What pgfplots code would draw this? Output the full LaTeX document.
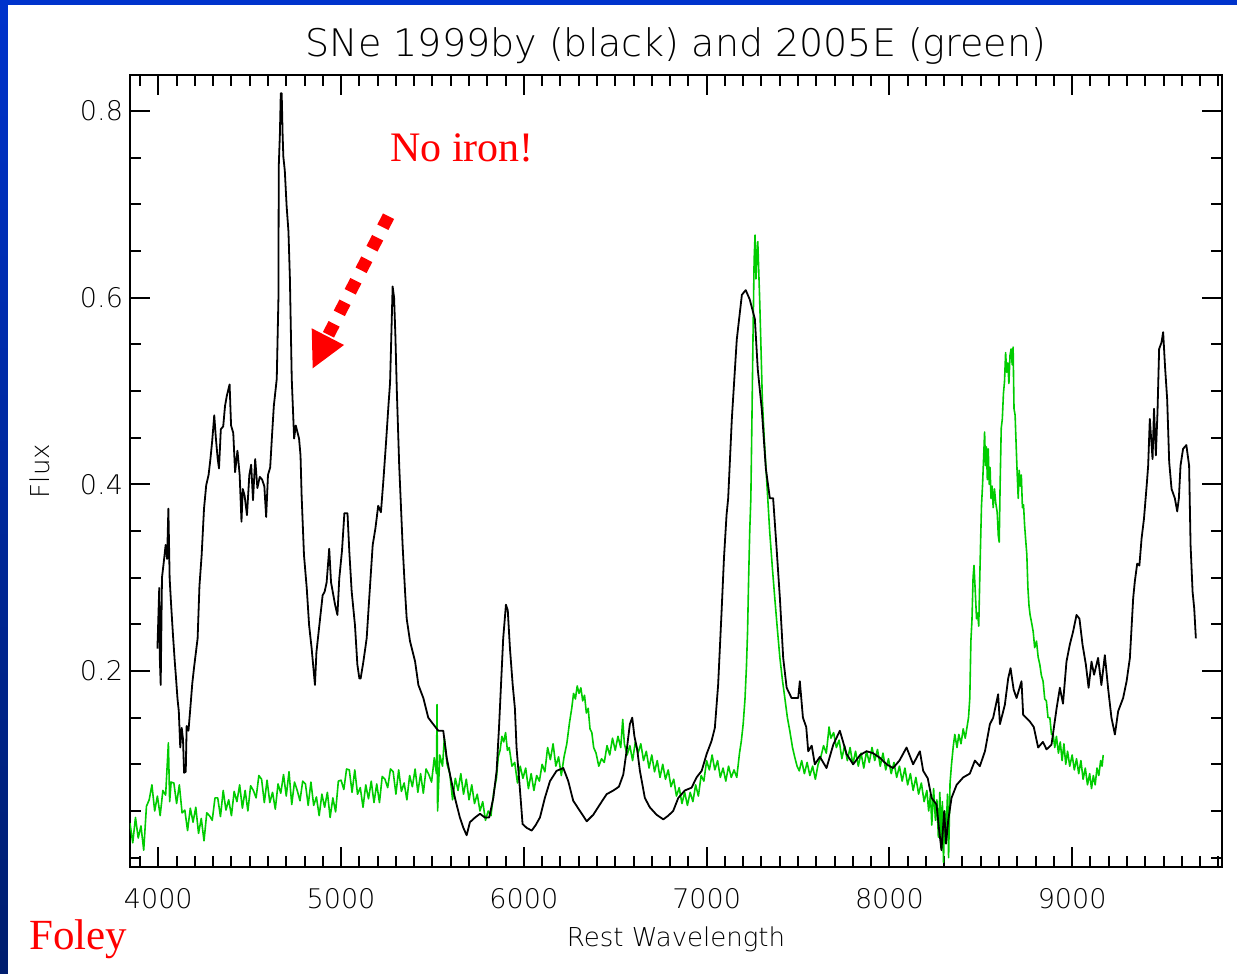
\documentclass[border=0pt]{standalone}
\usepackage{pgfplots}
\pgfplotsset{compat=1.18}
\usepackage{pgfplotstable}
\usepackage{fontspec}
\setmainfont{DejaVu Sans ExtraLight}
\newfontfamily\timesf{Liberation Serif}
\definecolor{sgreen}{RGB}{0,204,0}
\definecolor{bordtop}{RGB}{0,51,204}
\definecolor{bordbot}{RGB}{0,30,110}

\pgfplotstableread{
x y
3995 0.224
3998 0.243
4005 0.289
4008 0.215
4013 0.185
4020 0.300
4030 0.317
4040 0.335
4048 0.320
4055 0.374
4062 0.299
4070 0.271
4080 0.239
4090 0.210
4097 0.192
4105 0.170
4112 0.157
4120 0.118
4128 0.139
4135 0.127
4141 0.091
4150 0.092
4155 0.141
4165 0.136
4175 0.160
4186 0.187
4195 0.203
4215 0.235
4225 0.291
4237 0.324
4250 0.374
4262 0.399
4275 0.410
4285 0.427
4295 0.447
4306 0.474
4315 0.449
4325 0.427
4332 0.417
4342 0.459
4355 0.462
4365 0.484
4375 0.495
4390 0.507
4398 0.463
4410 0.455
4420 0.413
4433 0.436
4445 0.410
4455 0.360
4462 0.395
4472 0.388
4485 0.367
4498 0.410
4508 0.421
4518 0.383
4530 0.427
4542 0.396
4555 0.408
4568 0.405
4580 0.398
4590 0.365
4600 0.410
4612 0.418
4622 0.452
4632 0.484
4648 0.513
4657 0.598
4659 0.741
4665 0.774
4670 0.819
4675 0.819
4680 0.775
4684 0.751
4692 0.736
4702 0.698
4712 0.671
4720 0.620
4730 0.513
4743 0.449
4752 0.463
4770 0.449
4778 0.431
4784 0.388
4797 0.324
4812 0.289
4825 0.249
4839 0.224
4850 0.200
4857 0.185
4865 0.220
4885 0.256
4899 0.281
4910 0.285
4921 0.295
4935 0.331
4945 0.295
4967 0.271
4980 0.260
4990 0.299
5005 0.329
5018 0.369
5035 0.369
5045 0.328
5058 0.285
5076 0.249
5089 0.207
5100 0.192
5107 0.192
5122 0.210
5140 0.235
5155 0.281
5173 0.335
5188 0.353
5203 0.377
5218 0.370
5231 0.403
5246 0.445
5259 0.484
5268 0.509
5275 0.560
5282 0.612
5290 0.600
5297 0.560
5305 0.500
5318 0.420
5337 0.333
5350 0.285
5359 0.256
5377 0.232
5405 0.210
5423 0.185
5450 0.171
5477 0.150
5504 0.143
5532 0.136
5559 0.136
5578 0.107
5596 0.089
5623 0.064
5650 0.043
5669 0.032
5687 0.024
5705 0.038
5733 0.043
5760 0.047
5787 0.043
5810 0.043
5833 0.064
5851 0.093
5864 0.139
5875 0.185
5887 0.235
5902 0.271
5912 0.265
5924 0.224
5939 0.185
5951 0.160
5960 0.118
5979 0.072
5993 0.036
6015 0.032
6043 0.029
6065 0.035
6088 0.043
6115 0.064
6143 0.082
6179 0.093
6216 0.096
6243 0.082
6270 0.061
6307 0.050
6344 0.039
6380 0.046
6416 0.057
6453 0.068
6490 0.072
6520 0.076
6544 0.089
6562 0.114
6580 0.143
6593 0.150
6605 0.130
6620 0.116
6635 0.093
6662 0.064
6689 0.054
6726 0.046
6763 0.041
6790 0.045
6817 0.050
6845 0.064
6881 0.072
6918 0.075
6945 0.086
6973 0.093
7000 0.111
7027 0.125
7045 0.139
7063 0.185
7082 0.264
7095 0.321
7109 0.367
7118 0.385
7138 0.470
7165 0.555
7193 0.603
7214 0.608
7236 0.598
7264 0.577
7280 0.523
7302 0.480
7324 0.417
7346 0.385
7364 0.385
7383 0.331
7401 0.278
7419 0.214
7438 0.182
7465 0.171
7501 0.171
7510 0.189
7527 0.150
7545 0.140
7556 0.114
7575 0.120
7592 0.100
7620 0.108
7656 0.096
7693 0.121
7729 0.136
7766 0.111
7802 0.100
7840 0.110
7875 0.114
7910 0.112
7948 0.107
7985 0.100
8020 0.096
8055 0.104
8094 0.118
8130 0.100
8167 0.114
8185 0.093
8210 0.085
8231 0.064
8258 0.057
8272 0.030
8285 0.008
8300 0.050
8310 0.015
8322 0.040
8340 0.064
8368 0.078
8404 0.086
8440 0.090
8468 0.104
8495 0.098
8523 0.114
8550 0.143
8568 0.150
8595 0.175
8605 0.143
8632 0.164
8650 0.192
8663 0.203
8680 0.180
8696 0.171
8723 0.189
8732 0.153
8768 0.146
8790 0.140
8814 0.118
8840 0.124
8860 0.116
8887 0.121
8915 0.160
8933 0.182
8950 0.165
8969 0.210
8987 0.228
9005 0.242
9024 0.260
9040 0.256
9057 0.228
9075 0.207
9090 0.182
9106 0.210
9120 0.196
9142 0.214
9160 0.185
9179 0.217
9197 0.181
9215 0.150
9234 0.132
9252 0.157
9279 0.171
9298 0.189
9316 0.214
9334 0.278
9343 0.296
9356 0.315
9368 0.313
9380 0.342
9393 0.363
9408 0.399
9416 0.420
9425 0.470
9440 0.427
9448 0.481
9458 0.431
9467 0.477
9476 0.545
9489 0.552
9498 0.563
9508 0.527
9520 0.491
9531 0.424
9544 0.395
9562 0.385
9575 0.371
9584 0.385
9593 0.420
9607 0.438
9625 0.442
9640 0.420
9648 0.335
9659 0.285
9668 0.267
9677 0.235
}\blackspec

\pgfplotstableread{
x y
3845 0.037
3860 0.016
3875 0.043
3890 0.021
3905 0.034
3920 0.008
3935 0.055
3950 0.062
3965 0.078
3980 0.050
3995 0.066
4010 0.045
4025 0.072
4040 0.067
4055 0.123
4062 0.060
4070 0.081
4085 0.080
4100 0.058
4115 0.078
4130 0.048
4145 0.051
4160 0.029
4175 0.053
4190 0.038
4205 0.054
4220 0.026
4235 0.042
4250 0.018
4265 0.048
4280 0.045
4295 0.040
4310 0.064
4325 0.064
4340 0.044
4355 0.072
4370 0.051
4385 0.062
4400 0.045
4415 0.071
4430 0.060
4445 0.078
4460 0.053
4475 0.072
4490 0.050
4505 0.077
4520 0.072
4535 0.064
4550 0.088
4565 0.084
4580 0.059
4595 0.083
4610 0.059
4625 0.070
4640 0.052
4655 0.079
4670 0.069
4685 0.089
4700 0.066
4715 0.092
4730 0.057
4745 0.081
4760 0.072
4775 0.061
4790 0.082
4805 0.079
4820 0.056
4835 0.081
4850 0.056
4865 0.065
4880 0.045
4895 0.068
4910 0.054
4925 0.070
4940 0.043
4955 0.064
4970 0.049
4985 0.082
5000 0.083
5015 0.073
5030 0.095
5045 0.094
5060 0.070
5075 0.094
5090 0.068
5105 0.075
5120 0.054
5135 0.078
5150 0.063
5165 0.082
5180 0.059
5195 0.079
5210 0.059
5225 0.087
5240 0.084
5255 0.075
5270 0.095
5285 0.092
5300 0.068
5315 0.094
5330 0.071
5345 0.080
5360 0.062
5375 0.088
5390 0.076
5405 0.095
5420 0.070
5435 0.090
5450 0.069
5465 0.095
5480 0.089
5495 0.081
5510 0.107
5522 0.090
5525 0.164
5528 0.050
5540 0.110
5555 0.098
5565 0.128
5580 0.100
5595 0.090
5610 0.062
5625 0.085
5640 0.072
5655 0.090
5670 0.068
5685 0.084
5700 0.062
5715 0.078
5730 0.058
5745 0.068
5760 0.050
5775 0.060
5790 0.040
5805 0.050
5820 0.045
5835 0.070
5850 0.085
5860 0.108
5870 0.115
5880 0.130
5890 0.124
5900 0.134
5910 0.115
5920 0.118
5935 0.098
5950 0.102
5965 0.080
5980 0.098
5995 0.085
6010 0.096
6025 0.074
6040 0.090
6055 0.072
6070 0.088
6085 0.082
6100 0.100
6115 0.092
6130 0.118
6145 0.105
6160 0.122
6175 0.098
6190 0.108
6205 0.088
6220 0.108
6235 0.122
6250 0.145
6262 0.160
6272 0.176
6282 0.170
6292 0.184
6302 0.176
6312 0.182
6322 0.168
6332 0.174
6342 0.155
6352 0.160
6362 0.138
6372 0.134
6382 0.118
6395 0.112
6410 0.098
6425 0.106
6440 0.102
6455 0.120
6470 0.110
6485 0.128
6500 0.115
6515 0.130
6530 0.118
6541 0.148
6550 0.122
6565 0.110
6580 0.120
6595 0.104
6610 0.124
6625 0.112
6640 0.122
6655 0.104
6670 0.114
6685 0.096
6700 0.110
6715 0.092
6730 0.104
6745 0.086
6760 0.100
6775 0.084
6790 0.094
6805 0.076
6820 0.084
6835 0.066
6850 0.075
6865 0.058
6880 0.070
6895 0.056
6910 0.070
6925 0.060
6940 0.078
6955 0.066
6970 0.088
6985 0.082
7000 0.104
7015 0.094
7030 0.110
7045 0.094
7060 0.104
7075 0.086
7090 0.096
7105 0.082
7120 0.098
7135 0.086
7150 0.094
7165 0.086
7180 0.112
7190 0.125
7200 0.143
7210 0.170
7218 0.205
7224 0.242
7230 0.300
7236 0.350
7242 0.385
7248 0.470
7254 0.560
7260 0.640
7265 0.667
7270 0.620
7275 0.645
7280 0.660
7285 0.630
7290 0.600
7297 0.550
7305 0.490
7315 0.450
7330 0.400
7345 0.350
7360 0.310
7373 0.278
7387 0.245
7401 0.214
7415 0.190
7428 0.171
7442 0.150
7455 0.136
7470 0.118
7483 0.107
7495 0.098
7507 0.093
7520 0.104
7535 0.090
7550 0.102
7565 0.088
7580 0.098
7595 0.084
7610 0.100
7625 0.108
7640 0.120
7655 0.112
7670 0.140
7680 0.128
7695 0.134
7710 0.118
7725 0.126
7740 0.106
7755 0.120
7770 0.104
7785 0.118
7800 0.100
7815 0.114
7830 0.098
7845 0.112
7860 0.096
7875 0.114
7890 0.102
7905 0.118
7920 0.104
7935 0.116
7950 0.098
7965 0.112
7980 0.094
7995 0.106
8010 0.090
8025 0.102
8040 0.086
8055 0.098
8070 0.082
8085 0.096
8100 0.078
8115 0.090
8130 0.072
8145 0.086
8160 0.068
8175 0.080
8190 0.060
8205 0.072
8215 0.050
8225 0.068
8232 0.035
8242 0.074
8252 0.040
8260 0.062
8268 0.022
8276 0.070
8284 0.010
8290 0.060
8296 -0.005
8303 0.050
8310 0.025
8318 0.068
8324 0.000
8332 0.080
8340 0.100
8350 0.120
8358 0.132
8370 0.118
8380 0.132
8392 0.122
8404 0.138
8415 0.128
8425 0.140
8433 0.150
8440 0.171
8446 0.232
8452 0.255
8458 0.300
8463 0.313
8470 0.285
8477 0.256
8483 0.262
8489 0.248
8495 0.303
8500 0.345
8504 0.377
8510 0.400
8516 0.430
8521 0.456
8526 0.420
8531 0.440
8536 0.405
8541 0.438
8546 0.400
8551 0.418
8556 0.385
8562 0.398
8568 0.375
8575 0.395
8582 0.380
8590 0.370
8596 0.345
8601 0.338
8606 0.400
8612 0.460
8618 0.470
8624 0.497
8630 0.510
8636 0.541
8642 0.520
8648 0.530
8654 0.508
8660 0.538
8666 0.545
8672 0.528
8677 0.547
8682 0.481
8688 0.474
8694 0.440
8699 0.413
8705 0.385
8710 0.415
8716 0.398
8722 0.410
8728 0.375
8734 0.378
8740 0.356
8746 0.340
8752 0.325
8758 0.289
8764 0.270
8770 0.260
8778 0.252
8787 0.242
8795 0.225
8805 0.232
8814 0.215
8823 0.207
8832 0.195
8841 0.189
8850 0.170
8859 0.168
8868 0.150
8878 0.150
8887 0.132
8896 0.132
8905 0.118
8914 0.130
8925 0.112
8935 0.124
8945 0.104
8955 0.122
8965 0.100
8975 0.114
8987 0.098
9000 0.110
9012 0.094
9024 0.106
9036 0.090
9048 0.104
9060 0.084
9072 0.096
9084 0.078
9096 0.090
9106 0.074
9116 0.088
9126 0.078
9136 0.096
9146 0.088
9156 0.104
9164 0.098
9170 0.110
}\greenspec

\begin{document}
\begin{tikzpicture}[x=1pt,y=1pt]
\shade[top color=bordtop,bottom color=bordbot] (0,0) rectangle (618.5,487);
\fill[white] (4,0) rectangle (618.5,484.5);
\begin{axis}[
  at={(65pt,53.5pt)}, anchor=south west,
  width=546pt, height=396pt, scale only axis,
  xmin=3845, xmax=9820, ymin=-0.010, ymax=0.8385,
  axis line style={line width=1pt},
  every tick/.style={black, line width=1pt},
  major tick length=10pt, minor tick length=5.5pt,
  xtick={4000,5000,6000,7000,8000,9000},
  xticklabels={4000,5000,6000,7000,8000,9000},
  minor xtick={3900,4000,...,9800},
  ytick={0.2,0.4,0.6,0.8},
  yticklabels={0.2,0.4,0.6,0.8},
  minor ytick={0,0.05,...,0.8},
  /pgf/number format/assume math mode=true,
  tick label style={font=\fontsize{13.5}{16}\selectfont},
  xticklabel style={yshift=-7pt},
  title={SNe 1999by (black) and 2005E (green)},
  title style={font=\fontsize{19}{22}\selectfont, at={(0.5,1.0088)}, anchor=base},
  xlabel={Rest Wavelength},
  xlabel style={font=\fontsize{13}{15}\selectfont, at={(0.5,-0.101)}, anchor=base},
  ylabel={Flux},
  ylabel style={font=\fontsize{13}{15}\selectfont, at={(-0.0733,0.5)}, anchor=base},
]
\addplot[sgreen, line width=0.8pt, line join=round] table[x=x,y=y] {\greenspec};
\addplot[black, line width=0.9pt, line join=round] table[x=x,y=y] {\blackspec};
\end{axis}
\node[anchor=base west, text=red, font=\timesf\fontsize{21}{25}\selectfont, inner sep=0pt] at (195,406.2) {No iron!};
\node[anchor=base west, text=red, font=\timesf\fontsize{21.5}{25}\selectfont, inner sep=0pt] at (14.5,12) {Foley};
\draw[red, line width=6.2pt, dash pattern=on 6.2pt off 5.86pt] (194.25,378.9) -- (164.25,319.6);
\fill[red] (155.85,322.85) -- (172,314.5) -- (156.35,302.85) -- cycle;
\pgfresetboundingbox
\path[use as bounding box] (0,0) rectangle (618.5,487);
\end{tikzpicture}
\end{document}
